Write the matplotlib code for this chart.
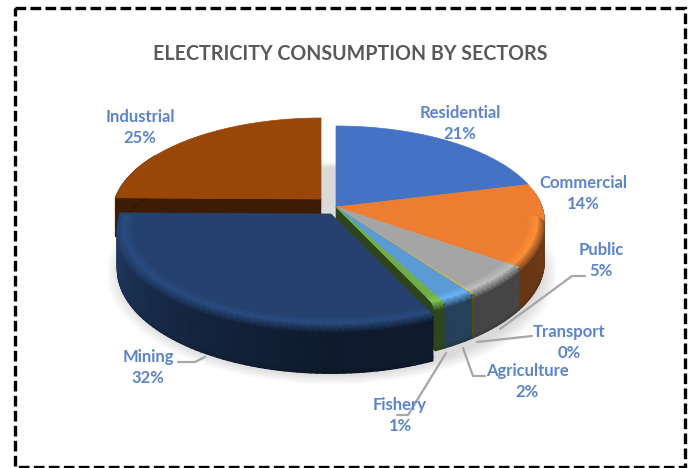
import numpy as np
import matplotlib
matplotlib.use("Agg")
import matplotlib.pyplot as plt
from matplotlib.patches import Polygon, Rectangle

sectors = ["Residential", "Commercial", "Public", "Transport",
           "Agriculture", "Fishery", "Mining", "Industrial"]
shares = [21, 14, 5.1, 0.1, 2.3, 0.7, 32, 24.8]
face_colors = ["#4472C4", "#ED7D31", "#A5A5A5", "#FFC000",
               "#5B9BD5", "#70AD47", "#24416F", "#994708"]

title_text = "ELECTRICITY CONSUMPTION BY SECTORS"

# Pie geometry in pixel units, with a simple perspective foreshortening
CX, CY = 336.0, 207.0
RX, RY = 206.0, 93.3
PERSP = 0.152
DEPTH = 39.0
EXPLODE = {"Mining": (-5.0, 7.0), "Industrial": (-15.0, -8.0)}
RADIUS = {"Mining": 1.025}
SIDE_WALL = {"Fishery": "end", "Industrial": "start"}
WALL_TONE = {"Industrial": 0.45}

LABEL_POS = {
    "Residential": (460, 113), "Commercial": (583, 183), "Public": (601, 250),
    "Transport": (569, 332), "Agriculture": (527, 371), "Fishery": (400, 405),
    "Mining": (148, 357), "Industrial": (140, 117),
}
LEADERS = {
    "Public": [(500, 329), (572, 276), (585, 276)],
    "Transport": [(477, 342), (532, 336)],
    "Agriculture": [(463, 348), (473, 376), (485, 376)],
    "Fishery": [(446, 353), (408, 415), (397, 415)],
    "Mining": [(178, 362), (195, 362), (205, 357)],
}


def project(theta, r=1.0, z=0.0, off=(0.0, 0.0)):
    """Map clockwise angle from 12 o'clock, radius and drop to pixel space."""
    t = np.radians(theta)
    px, py = r * np.sin(t), r * np.cos(t)
    s = 1.0 / (1.0 + PERSP * py)
    return CX + off[0] + RX * px * s, CY + off[1] - RY * py * s + z * s


def wall_light(theta):
    return np.interp(theta, [90, 130, 180, 225, 262, 360],
                     [0.50, 0.42, 0.40, 0.62, 0.90, 0.90])


def rgb(color):
    return np.array(matplotlib.colors.to_rgb(color))


def mesh(ax, xs, ys, colors, zorder):
    ax.pcolormesh(xs, ys, np.clip(colors, 0, 1), shading="gouraud",
                  zorder=zorder, antialiased=False)


def draw_slice(ax, name, th0, th1, color, zorder):
    base = rgb(color)
    off = EXPLODE.get(name, (0.0, 0.0))
    rad = RADIUS.get(name, 1.0)
    th = np.linspace(th0, th1, max(int((th1 - th0) / 1.5), 3))
    apex = (CX + off[0], CY + off[1])

    # radial wall that faces the viewer once the neighbouring slice moves away
    if name in SIDE_WALL:
        edge = th1 if SIDE_WALL[name] == "end" else th0
        x1, y1 = project(edge, rad, 0.0, off)
        x2, y2 = project(edge, rad, DEPTH, off)
        ax.add_patch(Polygon([apex, (x1, y1), (x2, y2), (apex[0], apex[1] + DEPTH)],
                             fc=base * 0.40, ec=base * 0.40, lw=0.4, zorder=zorder))

    # outer wall, only where the arc can be seen from the front
    arc = th[(th >= 80) & (th <= 300)]
    if arc.size > 1:
        drops = np.array([0.0, 0.12, 0.3, 0.92, 1.0]) * DEPTH
        tones = np.array([1.1, 1.0, 1.0, 1.0, 0.85])
        xs = np.array([project(arc, rad, d, off)[0] for d in drops])
        ys = np.array([project(arc, rad, d, off)[1] for d in drops])
        light = wall_light(arc) * WALL_TONE.get(name, 1.0)
        col = np.stack([np.outer(tones, light)] * 3, axis=-1) * base
        mesh(ax, xs, ys, col, zorder)

    # flat top
    tx, ty = project(th, rad, 0.0, off)
    ax.add_patch(Polygon([apex] + list(zip(tx, ty)), fc=color, ec=color, lw=0.5,
                         zorder=zorder))

    # rounded rim along the part of the edge that faces the viewer
    front = th[(th >= 96) & (th <= 270)]
    if front.size > 2:
        radii = np.array([0.925, 0.97, 1.0]) * rad
        drop = np.array([0.0, 0.0, 4.0])
        xs = np.array([project(front, r, d, off)[0] for r, d in zip(radii, drop)])
        ys = np.array([project(front, r, d, off)[1] for r, d in zip(radii, drop)])
        lit = np.stack([np.ones_like(front), np.full_like(front, 1.18),
                        wall_light(front) * 1.1])
        mesh(ax, xs, ys, lit[..., None] * base, zorder + 0.1)


fig = plt.figure(figsize=(6.89, 4.68), dpi=100)
ax = fig.add_axes([0, 0, 1, 1])
ax.set_xlim(0, 689)
ax.set_ylim(468, 0)
ax.axis("off")
plt.rcParams["font.family"] = ["Lato", "DejaVu Sans"]

ax.add_patch(Rectangle((15, 8), 670, 459, fc="white", ec="black", lw=2.4,
                       linestyle=(0, (3.2, 1.3)), zorder=0))

# soft drop shadow under the pie
theta_all = np.linspace(0, 360, 361)
for scale in np.linspace(1.08, 1.0, 14):
    sx, sy = project(theta_all, scale, DEPTH + 6, (-4, 3))
    ax.add_patch(Polygon(list(zip(sx, sy)), fc="#7f7f7f", ec="none",
                         alpha=0.018, zorder=1))

total = sum(shares)
edges = np.concatenate([[0], np.cumsum(shares)]) / total * 360
order = [7, 0, 1, 2, 3, 4, 5, 6]
for rank, i in enumerate(order):
    draw_slice(ax, sectors[i], edges[i], edges[i + 1], face_colors[i], zorder=2 + rank)

for name, pts in LEADERS.items():
    ax.plot(*zip(*pts), color="#A6A6A6", lw=1.6, zorder=20,
            solid_capstyle="round")

for name, value in zip(sectors, shares):
    x, y = LABEL_POS[name]
    ax.text(x, y, name, ha="center", va="center", fontsize=12,
            fontweight="bold", color="#5B84CC", zorder=21)
    ax.text(x, y + 21, f"{value:.0f}%", ha="center", va="center", fontsize=12,
            fontweight="bold", color="#5B84CC", zorder=21)

ax.text(350.5, 54, title_text, ha="center", va="center", fontsize=14.1,
        fontweight="bold", color="#595959", zorder=21)

fig.savefig("out.png", dpi=100)
